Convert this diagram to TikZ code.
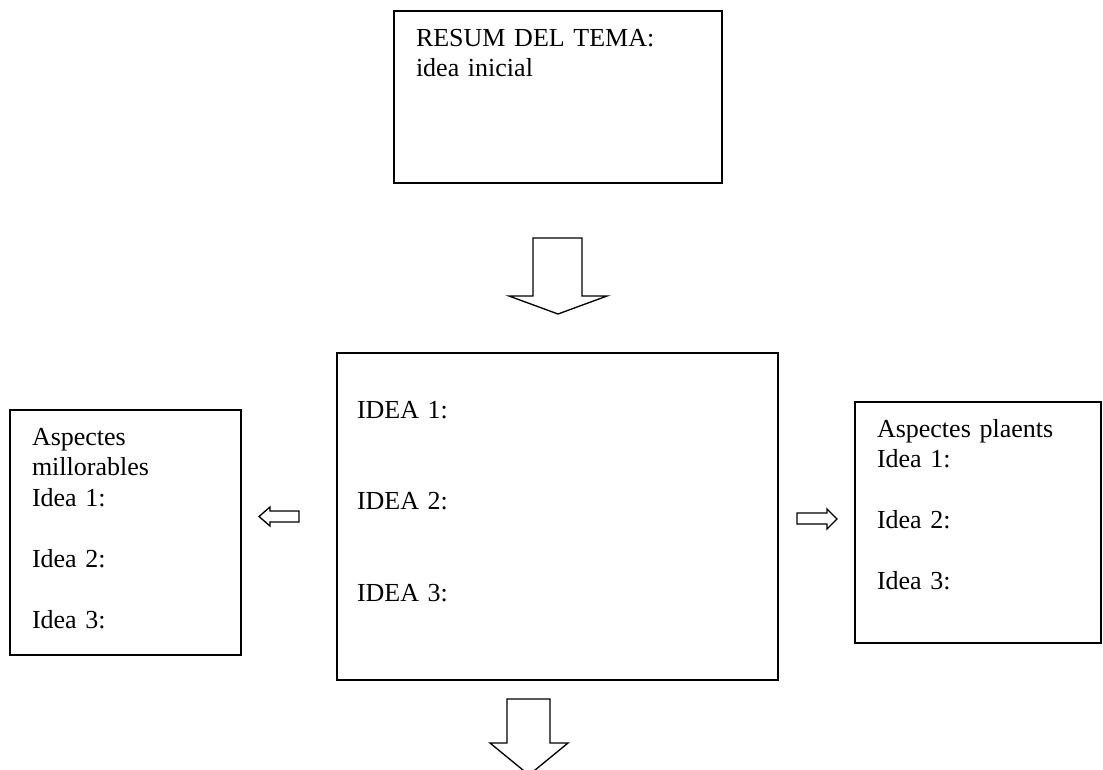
\documentclass[tikz,border=0pt]{standalone}
\usepackage{fontspec}
\setmainfont{Liberation Serif}

\newcommand{\px}{0.75pt}

\tikzset{
  box/.style={draw, line width=1pt, inner sep=0pt, outer sep=0pt, anchor=north west},
  txt/.style={anchor=base west, inner sep=0pt, outer sep=0pt, align=left,
    text width=300*\px, font=\fontsize{19.5pt}{22.9pt}\selectfont},
  blockarrow/.style={draw, line width=1pt, line join=miter, fill=white}
}

\begin{document}
\begin{tikzpicture}[x=0.75pt, y=-0.75pt]
  \useasboundingbox (0,0) rectangle (1103,769);

  % boxes
  \node[box, minimum width=328*\px, minimum height=172*\px] (resum) at (394,11) {};
  \node[box, minimum width=441*\px, minimum height=327*\px] (idees) at (337,353) {};
  \node[box, minimum width=231*\px, minimum height=245*\px] (millor) at (10,410) {};
  \node[box, minimum width=246*\px, minimum height=241*\px] (plaents) at (855,402) {};

  % texts
  \node[txt] (resumtxt) at (416,46) {RESUM DEL TEMA:\\idea inicial};
  \node[txt] (ideestxt) at (357,418) {IDEA 1:\\[45.8pt]IDEA 2:\\[45.8pt]IDEA 3:};
  \node[txt] (millortxt) at (32,445) {Aspectes\\millorables\\Idea 1:\\[22.9pt]Idea 2:\\[22.9pt]Idea 3:};
  \node[txt] (plaentstxt) at (877,437) {Aspectes plaents\\Idea 1:\\[22.9pt]Idea 2:\\[22.9pt]Idea 3:};

  % block arrows
  \draw[blockarrow] (533,238) -- (582,238) -- (582,296) -- (607,296) -- (558,314)
    -- (509,296) -- (533,296) -- cycle;
  \draw[blockarrow] (507,699) -- (550,699) -- (550,743) -- (568,743) -- (529,775)
    -- (490,743) -- (507,743) -- cycle;
  \draw[blockarrow] (299,511) -- (270,511) -- (270,507) -- (259,516.5) -- (270,526)
    -- (270,522) -- (299,522) -- cycle;
  \draw[blockarrow] (797,513) -- (827,513) -- (827,509) -- (837,519) -- (827,529)
    -- (827,524) -- (797,524) -- cycle;
\end{tikzpicture}
\end{document}
